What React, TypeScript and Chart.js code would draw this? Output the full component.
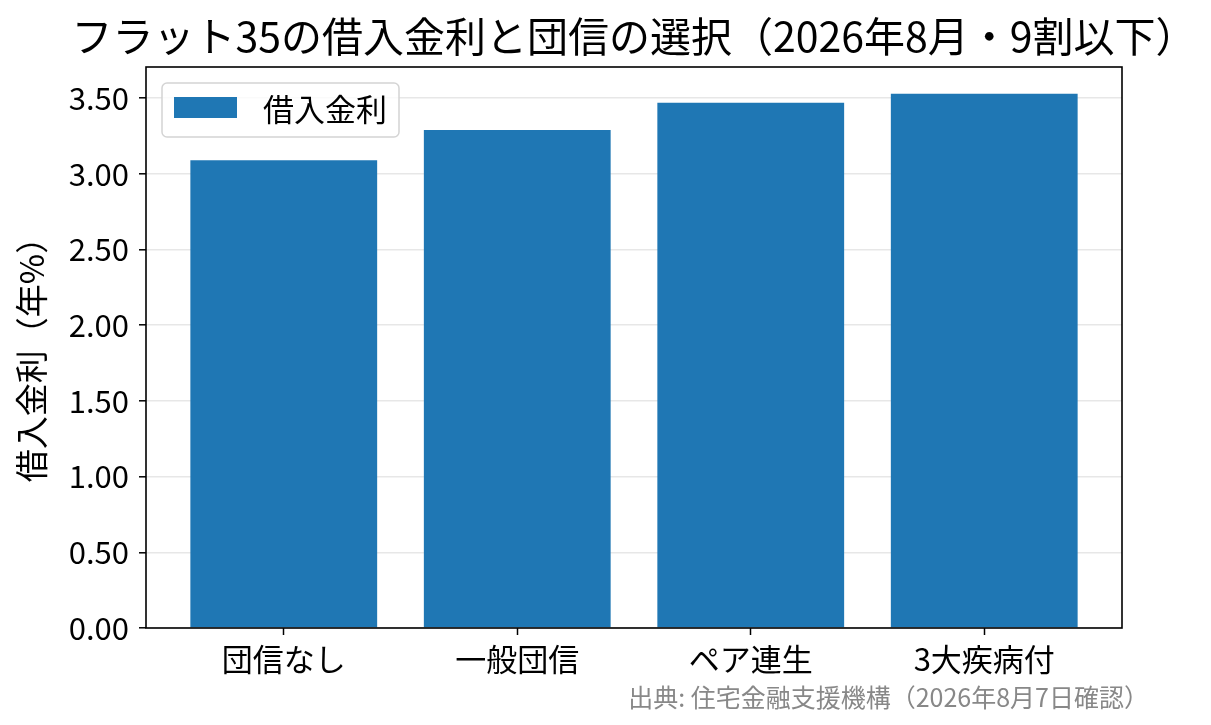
import React, { useEffect, useRef } from 'react';
import { Chart, registerables } from 'chart.js';

Chart.register(...registerables);

const FONT = '"Noto Sans CJK JP", "Noto Sans", sans-serif';

const chartTitle = 'フラット35の借入金利と団信の選択（2026年8月・9割以下）';
const yAxisLabel = '借入金利（年%）';
const sourceNote = '出典: 住宅金融支援機構（2026年8月7日確認）';
const seriesName = '借入金利';

const categories = ['団信なし', '一般団信', 'ペア連生', '3大疾病付'];
const rates = [3.09, 3.29, 3.47, 3.53];
const yTickValues = [0, 0.5, 1.0, 1.5, 2.0, 2.5, 3.0, 3.5];

const BAR_COLOR = '#1f77b4';

// draws the matplotlib-like frame, legend, title, y label and the source note
const decorPlugin = {
  id: 'decor',
  afterDraw(chart: Chart) {
    const { ctx, chartArea: a } = chart;
    ctx.save();

    ctx.strokeStyle = '#000';
    ctx.lineWidth = 1.6;
    ctx.strokeRect(a.left, a.top, a.right - a.left, a.bottom - a.top);

    // legend box, upper left inside the axes
    const lx = a.left + 16;
    const ly = a.top + 16;
    ctx.beginPath();
    ctx.roundRect(lx, ly, 237, 54, 5);
    ctx.fillStyle = 'rgba(255,255,255,0.8)';
    ctx.fill();
    ctx.strokeStyle = '#d4d4d4';
    ctx.lineWidth = 1.5;
    ctx.stroke();
    ctx.fillStyle = BAR_COLOR;
    ctx.fillRect(lx + 12, ly + 14, 63, 21);
    ctx.fillStyle = '#000';
    ctx.font = `31px ${FONT}`;
    ctx.textAlign = 'left';
    ctx.textBaseline = 'middle';
    ctx.fillText(seriesName, lx + 101, ly + 26);

    ctx.font = `41px ${FONT}`;
    ctx.textAlign = 'center';
    ctx.fillText(chartTitle, (a.left + a.right) / 2, 36);

    ctx.save();
    ctx.translate(31, (a.top + a.bottom) / 2 + 4);
    ctx.rotate(-Math.PI / 2);
    ctx.font = `33px ${FONT}`;
    ctx.fillText(yAxisLabel, 0, 0);
    ctx.restore();

    ctx.font = `25px ${FONT}`;
    ctx.fillStyle = '#888888';
    ctx.textAlign = 'right';
    ctx.fillText(sourceNote, 1149, 697);

    ctx.restore();
  },
};

const App: React.FC = () => {
  const chartRef = useRef<HTMLCanvasElement | null>(null);
  const chartInstance = useRef<Chart | null>(null);

  useEffect(() => {
    const canvas = chartRef.current;
    if (!canvas) return;
    const ctx = canvas.getContext('2d');
    if (!ctx) return;

    if (chartInstance.current) {
      chartInstance.current.destroy();
    }

    chartInstance.current = new Chart(ctx, {
      type: 'bar',
      data: {
        datasets: [
          {
            label: seriesName,
            data: rates.map((v, i) => ({ x: i, y: v })),
            backgroundColor: BAR_COLOR,
            borderWidth: 0,
            barPercentage: 0.8,
            categoryPercentage: 1,
          },
        ],
      },
      options: {
        responsive: false,
        devicePixelRatio: 1,
        animation: false,
        layout: { padding: { left: 0, right: 89, top: 67, bottom: 37 } },
        plugins: {
          legend: { display: false },
          tooltip: { enabled: false },
          title: { display: false },
        },
        scales: {
          x: {
            type: 'linear',
            offset: false,
            min: -0.59,
            max: 3.59,
            afterFit: (scale: any) => {
              scale.height = 60;
            },
            afterBuildTicks: (scale: any) => {
              scale.ticks = categories.map((_, i) => ({ value: i }));
            },
            grid: {
              offset: false,
              drawOnChartArea: false,
              drawTicks: true,
              tickLength: 7,
              tickColor: '#000',
              tickWidth: 1.5,
            },
            border: { display: false },
            ticks: {
              autoSkip: false,
              maxRotation: 0,
              padding: 6,
              color: '#000',
              font: { family: FONT, size: 31 },
              callback: (v: any) => categories[v as number] ?? '',
            },
          },
          y: {
            min: 0,
            max: 3.7065,
            z: 1,
            afterFit: (scale: any) => {
              scale.width = 146;
            },
            afterBuildTicks: (scale: any) => {
              scale.ticks = yTickValues.map((v) => ({ value: v }));
            },
            grid: {
              color: 'rgba(176,176,176,0.3)',
              lineWidth: 1.6,
              drawTicks: true,
              tickLength: 7,
              tickColor: '#000',
              tickWidth: 1.5,
            },
            border: { display: false },
            ticks: {
              padding: 10,
              color: '#000',
              font: { family: FONT, size: 31 },
              callback: (v: any) => Number(v).toFixed(2),
            },
          },
        },
      },
      plugins: [decorPlugin],
    });

    return () => {
      if (chartInstance.current) {
        chartInstance.current.destroy();
        chartInstance.current = null;
      }
    };
  }, []);

  return (
    <div style={{ position: 'absolute', left: 0, top: 0, width: 1211, height: 725, background: '#fff' }}>
      <canvas ref={chartRef} width={1211} height={725} style={{ display: 'block' }} />
    </div>
  );
};

export default App;
